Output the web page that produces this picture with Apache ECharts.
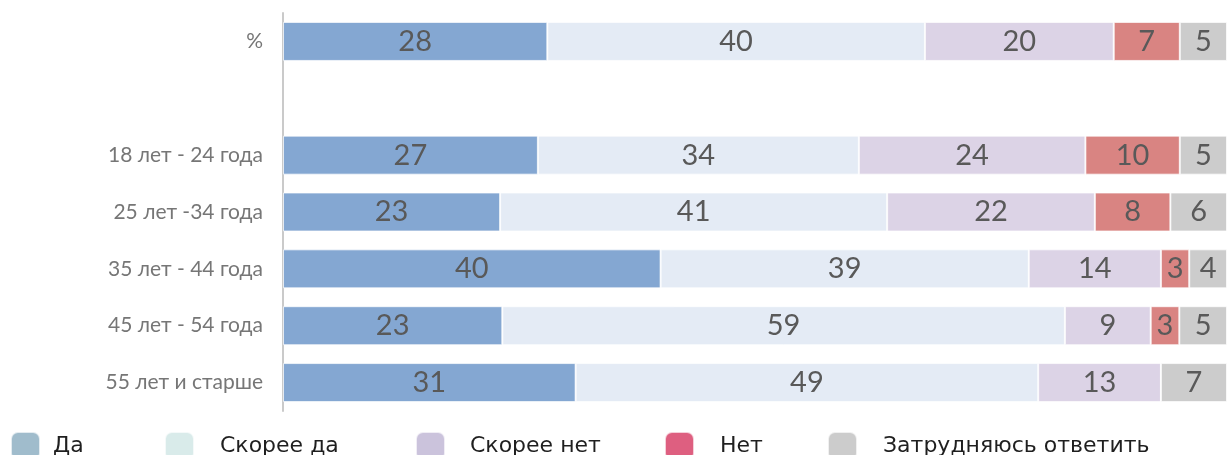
<!DOCTYPE html>
<html>
<head>
<meta charset="utf-8">
<script src="https://cdn.jsdelivr.net/npm/echarts@6/dist/echarts.min.js"></script>
<style>
  html, body { margin: 0; padding: 0; background: #fff; }
  #chart { width: 1227px; height: 455px; }
</style>
</head>
<body>
<div id="chart"></div>
<script>
const categories = ["%", "", "18 лет - 24 года", "25 лет -34 года", "35 лет - 44 года", "45 лет - 54 года", "55 лет и старше"];
const seriesNames = ["Да", "Скорее да", "Скорее нет", "Нет", "Затрудняюсь ответить"];
// null = пустая строка-разделитель
const da = [28, null, 27, 23, 40, 23, 31];
const skoreeDa = [40, null, 34, 41, 39, 59, 49];
const skoreeNet = [20, null, 24, 22, 14, 9, 13];
const net = [7, null, 10, 8, 3, 3, 0];
const zatr = [5, null, 5, 6, 4, 5, 7];

const barColors = ["#84a7d2", "#e4ebf5", "#dcd3e6", "#d98482", "#cccccc"];
const legendColors = ["#a0bccc", "#d9ebea", "#cbc3dc", "#de5f80", "#cccccc"];
const legendLeft = [10, 164, 415, 664, 827];
const legendPad = [8, 21, 20, 21, 21];

const font = "Lato, 'Noto Sans', sans-serif";
const values = [da, skoreeDa, skoreeNet, net, zatr];

// 100% stacked: each row is scaled to its total (как в Excel)
const rowTotals = categories.map((c, j) => values.reduce((s, arr) => s + (arr[j] || 0), 0));

const chart = echarts.init(document.getElementById("chart"));

const options = {
  animation: false,
  grid: { left: 283, right: 0, top: 13, height: 398 },
  xAxis: {
    type: "value",
    min: 0,
    max: 100,
    show: false,
  },
  yAxis: {
    type: "category",
    data: categories,
    inverse: true,
    axisTick: { show: false },
    axisLine: { show: true, lineStyle: { color: "#cacaca", width: 2 } },
    axisLabel: { color: "#767676", fontSize: 21, fontFamily: font, margin: 20 },
  },
  legend: seriesNames.map((name, i) => ({
    data: [{ name: name, itemStyle: { color: legendColors[i] } }],
    left: legendLeft[i],
    top: 431,
    padding: 0,
    itemWidth: 29,
    itemHeight: 28,
    selectedMode: false,
    textStyle: { color: "#1f1f1f", fontSize: 22, fontFamily: "'DejaVu Sans', sans-serif", padding: [0, 0, 0, legendPad[i]] },
  })),
  series: seriesNames.map((name, i) => ({
    name: name,
    type: "bar",
    stack: "total",
    barWidth: 39,
    data: values[i].map((v, j) => (v === null ? "-" : (v / rowTotals[j]) * 100)),
    itemStyle: { color: barColors[i], borderColor: "rgba(255,255,255,0.7)", borderWidth: 1 },
    label: {
      show: true,
      position: "inside",
      color: "#595959",
      fontSize: 29,
      fontFamily: font,
      formatter: (p) => {
        const v = values[p.seriesIndex][p.dataIndex];
        return v ? String(v) : "";
      },
    },
  })),
};
chart.setOption(options);
</script>
</body>
</html>
